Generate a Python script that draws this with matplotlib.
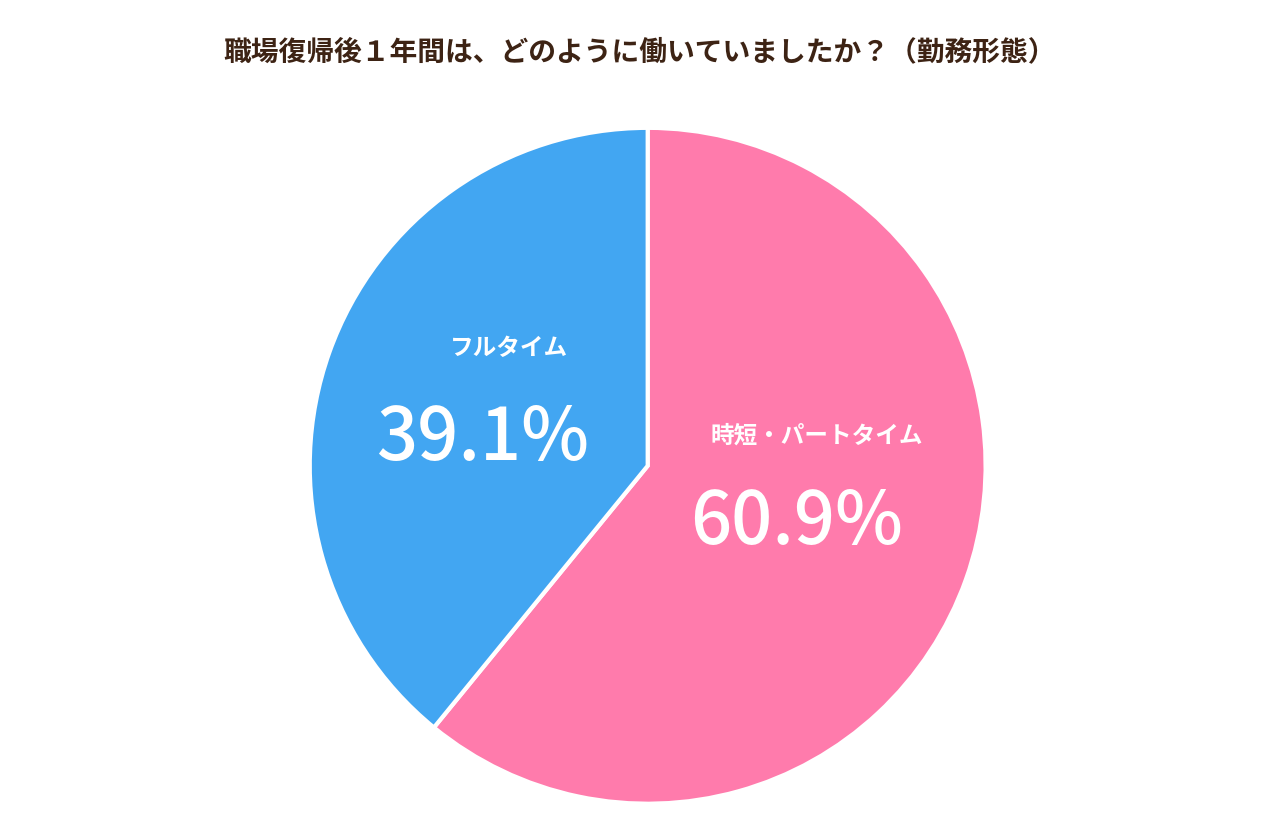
import matplotlib
matplotlib.use("Agg")
import matplotlib.pyplot as plt

plt.rcParams['font.family'] = ['Noto Sans CJK JP', 'DejaVu Sans']

categories = ["時短・パートタイム", "フルタイム"]
values = [60.9, 39.1]
colors = ["#FF7BAC", "#42A6F2"]
title = "職場復帰後１年間は、どのように働いていましたか？（勤務形態）"

fig = plt.figure(figsize=(12.8, 8.4), dpi=100)
ax = fig.add_axes([0.242, 0.043, 0.528, 0.805])
ax.pie(values, colors=colors, startangle=90, counterclock=False,
       wedgeprops=dict(edgecolor="white", linewidth=3))
ax.set_xlim(-1, 1); ax.set_ylim(-1, 1); ax.set_aspect('equal')

pos = {"フルタイム": ((-0.41, 0.35), (-0.49, 0.08)),
       "時短・パートタイム": ((0.50, 0.09), (0.44, -0.17))}
for c, v in zip(categories, values):
    (lx, ly), (vx, vy) = pos[c]
    ax.text(lx, ly, "\u2009".join(c) if False else c, ha="center", va="center",
            color="white", fontsize=17, fontweight="bold")
    ax.text(vx, vy, f"{v:.1f}%", ha="center", va="center",
            color="white", fontsize=52, fontweight="medium")

fig.text(0.5, 0.938, title, ha="center", va="center", fontsize=20,
         fontweight="bold", color="#3D2314")
fig.savefig("out.png", dpi=100, facecolor="white")
